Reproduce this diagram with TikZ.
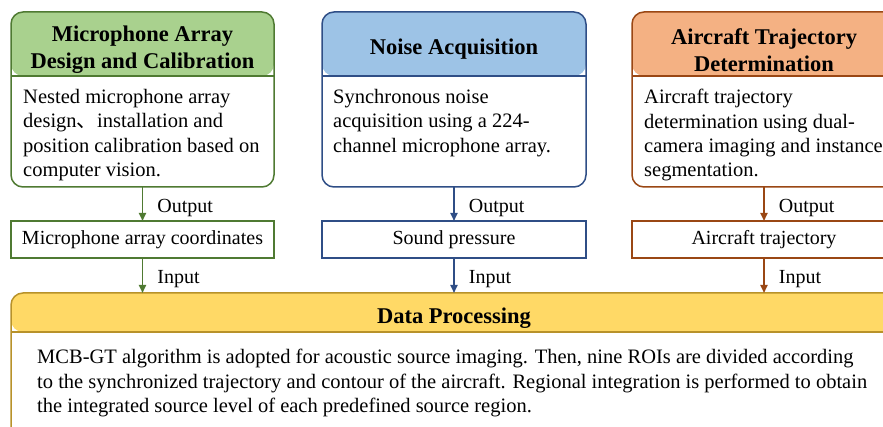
\documentclass[tikz,border=0pt]{standalone}
\usepackage{fontspec}
\setmainfont{Liberation Serif}
\newfontfamily\cjk{Noto Sans CJK SC}
\usetikzlibrary{positioning,arrows.meta}

\definecolor{micline}{HTML}{4F7A32}
\definecolor{micfill}{HTML}{A9D18E}
\definecolor{noiseline}{HTML}{2F4E86}
\definecolor{noisefill}{HTML}{9DC3E6}
\definecolor{trajline}{HTML}{9A4714}
\definecolor{trajfill}{HTML}{F4B183}
\definecolor{procline}{HTML}{B8922A}
\definecolor{procfill}{HTML}{FFD966}

\newcommand\bodyfont{\fontsize{20.5}{24.4}\selectfont}
\newcommand\tagfont{\fontsize{20}{24}\selectfont}
\newcommand\headfont{\fontsize{22.5}{27}\selectfont\bfseries}

\tikzset{
  card/.style n args={3}{draw=#1, fill=white, rounded corners=12pt, line width=1.5pt,
    inner sep=0pt, outer sep=0pt, anchor=north west,
    path picture={
      \fill[#2] (path picture bounding box.north west) rectangle ([yshift=-#3]path picture bounding box.north east);
      \draw[#1, line width=1.5pt] ([yshift=-#3]path picture bounding box.north west) -- ([yshift=-#3]path picture bounding box.north east);
    }},
  tag/.style={draw=#1, line width=1.2pt, minimum width=263pt, minimum height=37pt,
    inner sep=0pt, outer sep=0pt, font=\tagfont},
  head/.style={font=\headfont, align=center, inner sep=0pt},
  txt/.style={font=\bodyfont, align=left, inner sep=0pt, anchor=north west},
  flow/.style={draw=#1, line width=1.8pt, -{Triangle[length=8pt,width=7pt,fill=#1]}},
  lbl/.style={font=\tagfont, right=14pt, yshift=-4pt, inner sep=0pt, text=black}
}

\begin{document}
\begin{tikzpicture}[x=1pt, y=-1pt]
\path[use as bounding box, clip] (0,0) rectangle (883,427);

% three input stages
\node[card={micline}{micfill}{64pt}, minimum width=263pt, minimum height=175pt] (mic) at (11,12) {};
\node[card={noiseline}{noisefill}{64pt}, minimum width=264pt, minimum height=175pt] (noise) at (322,12) {};
\node[card={trajline}{trajfill}{64pt}, minimum width=264pt, minimum height=175pt] (traj) at (632,12) {};

\node[head] (micT) at ([yshift=-38pt]mic.north) {Microphone Array\\Design and Calibration};
\node[head] (noiseT) at ([yshift=-37pt]noise.north) {Noise Acquisition};
\node[head] (trajT) at ([yshift=-38pt]traj.north) {Aircraft Trajectory\\Determination};

\node[txt] (micB) at ([xshift=12pt, yshift=-77pt]mic.north west)
  {Nested microphone array\\design{\cjk 、}installation and\\position calibration based on\\computer vision.};
\node[txt] (noiseB) at ([xshift=11pt, yshift=-77pt]noise.north west)
  {Synchronous noise\\acquisition using a 224-\\channel microphone array.};
\node[txt] (trajB) at ([xshift=12pt, yshift=-77pt]traj.north west)
  {Aircraft trajectory\\determination using dual-\\camera imaging and instance\\segmentation.};

% outputs
\node[tag=micline, below=34pt of mic.south] (micO) {Microphone array coordinates};
\node[tag=noiseline, minimum width=264pt, below=34pt of noise.south] (noiseO) {Sound pressure};
\node[tag=trajline, minimum width=264pt, below=34pt of traj.south] (trajO) {Aircraft trajectory};

% data processing
\node[card={procline}{procfill}{39pt}, minimum width=886pt, minimum height=170pt] (proc) at (11,293) {};
\node[head] (procT) at ([yshift=-25pt]proc.north) {Data Processing};
\node[txt] (procB) at ([xshift=26pt, yshift=-56pt]proc.north west)
  {MCB-GT algorithm is adopted for acoustic source imaging. Then, nine ROIs are divided according\\
   to the synchronized trajectory and contour of the aircraft. Regional integration is performed to obtain\\
   the integrated source level of each predefined source region.};

\draw[flow=micline] (mic) -- node[lbl] {Output} (micO);
\draw[flow=noiseline] (noise) -- node[lbl] {Output} (noiseO);
\draw[flow=trajline] (traj) -- node[lbl] {Output} (trajO);

\draw[flow=micline] (micO.south) -- node[lbl] {Input} (micO.south |- proc.north);
\draw[flow=noiseline] (noiseO.south) -- node[lbl] {Input} (noiseO.south |- proc.north);
\draw[flow=trajline] (trajO.south) -- node[lbl] {Input} (trajO.south |- proc.north);
\end{tikzpicture}
\end{document}
